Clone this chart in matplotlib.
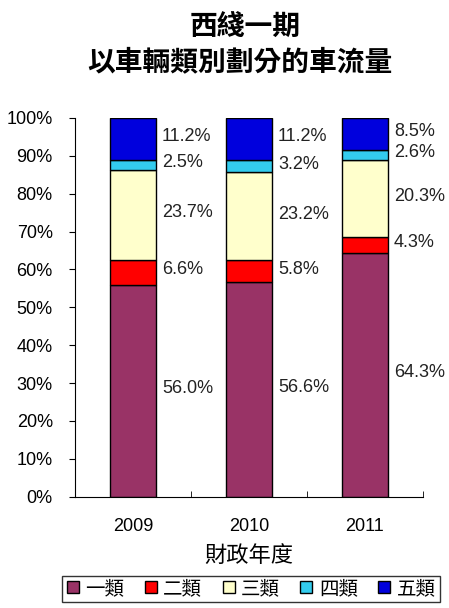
import numpy as np
import matplotlib
import matplotlib.pyplot as plt
from matplotlib.ticker import PercentFormatter
from matplotlib.lines import Line2D
matplotlib.use('Agg')

plt.rcParams['font.family'] = ['Liberation Sans', 'Noto Sans CJK TC']

years = ['2009', '2010', '2011']
classes = ['一類', '二類', '三類', '四類', '五類']
class1 = [56.0, 56.6, 64.3]
class2 = [6.6, 5.8, 4.3]
class3 = [23.7, 23.2, 20.3]
class4 = [2.5, 3.2, 2.6]
class5 = [11.2, 11.2, 8.5]
colors = ['#993366', '#FF0000', '#FFFFCC', '#33CCEE', '#0000DD']

series = [class1, class2, class3, class4, class5]
x = np.arange(len(years))
width = 0.4

fig = plt.figure(figsize=(4.49, 6.08), dpi=100)
ax = fig.add_axes([0.167, 0.183, 0.775, 0.623])

bottom = np.zeros(len(years))
for vals, col in zip(series, colors):
    vals = np.array(vals)
    ax.bar(x, vals, width, bottom=bottom, color=col, edgecolor='black', linewidth=1.0)
    for xi, b, v in zip(x, bottom, vals):
        ax.text(xi + width / 2 + 0.05, b + v / 2 + 0.6, '%.1f%%' % v,
                ha='left', va='center', fontsize=13, color='#222222')
    bottom += vals

ax.set_xlim(-0.5, 2.5)
ax.set_ylim(0, 100)
ax.set_yticks(np.arange(0, 101, 10))
ax.yaxis.set_major_formatter(PercentFormatter(decimals=0))
ax.set_xticks(x)
ax.set_xticklabels(years)
ax.set_xticks([0.5, 1.5, 2.5], minor=True)
ax.tick_params(axis='x', which='major', length=0, pad=15, labelsize=13)
ax.tick_params(axis='x', which='minor', direction='in', length=4)
ax.tick_params(axis='y', direction='out', length=4, labelsize=13, pad=12)
ax.spines['top'].set_visible(False)
ax.spines['right'].set_visible(False)
ax.set_xlabel('財政年度', fontsize=16, labelpad=8)

fig.text(0.545, 0.952, '西綫一期', ha='center', va='center', fontsize=20, fontweight='bold')
fig.text(0.535, 0.896, '以車輛類別劃分的車流量', ha='center', va='center', fontsize=20, fontweight='bold')

handles = [Line2D([], [], marker='s', linestyle='none', markersize=8,
                  markerfacecolor=c, markeredgecolor='black') for c in colors]
leg = fig.legend(handles, classes, loc='center', bbox_to_anchor=(0.559, 0.031), ncol=5,
                 frameon=True, fancybox=False, edgecolor='black', fontsize=14,
                 handlelength=0.7, handletextpad=0.3, columnspacing=1.0, borderpad=0.2)
leg.get_frame().set_linewidth(1.0)

plt.savefig('out.png', dpi=100)
